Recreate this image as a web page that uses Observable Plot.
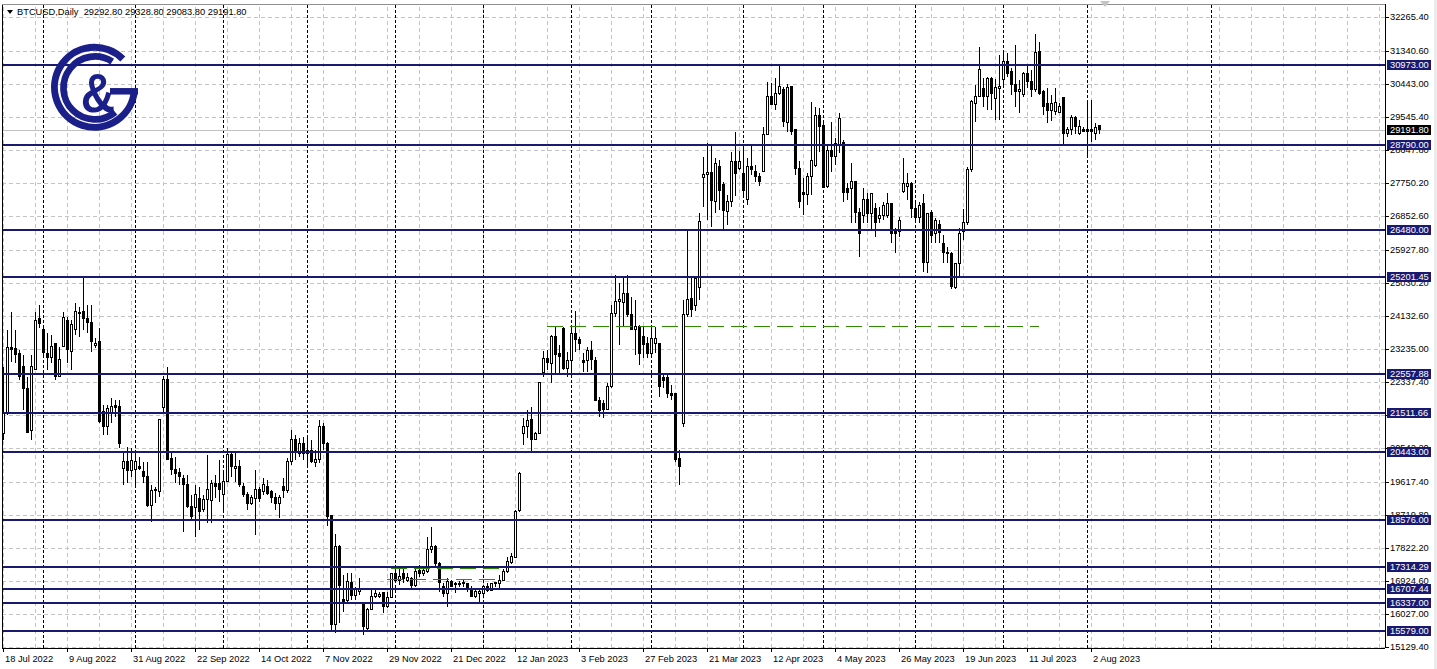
<!DOCTYPE html>
<html><head><meta charset="utf-8">
<script src="https://cdn.jsdelivr.net/npm/d3@7"></script>
<script src="https://cdn.jsdelivr.net/npm/@observablehq/plot@0.6"></script>
<style>
html,body{margin:0;padding:0;background:#fff;overflow:hidden}
#wrap{position:relative;width:1437px;height:669px}
#chart{position:absolute;left:0;top:0}
#over{position:absolute;left:0;top:0;pointer-events:none}
</style></head><body>
<div id="wrap"><div id="chart"></div>
<svg id="over" width="1437" height="669">
  <rect x="1434" y="0" width="3" height="669" fill="#ececec"/>
  <polygon points="7,10 13,10 10,14" fill="#000"/>
  <text x="17" y="15" font-family="Liberation Sans, Arial, sans-serif" font-size="9.3" style="white-space:pre">BTCUSD,Daily  29292.80 29328.80 29083.80 29191.80</text>
  <polygon points="1100,1 1110,1 1105,7" fill="#c4c4c4"/>
  <g fill="none" stroke="#1b1f8a">
    <path d="M 134.4 90.1 A 40 40 0 1 1 122.8 59" stroke-width="7"/>
    <line x1="110" y1="91.3" x2="138" y2="91.3" stroke-width="6.5"/>
    <path d="M 112.2 61.6 A 31.5 31.5 0 1 0 115.2 112.1" stroke-width="6.7"/>
  </g>
  <text transform="translate(98,112) scale(0.85,1)" text-anchor="middle" font-family="Liberation Sans, Arial, sans-serif" font-weight="bold" font-size="56" fill="#1b1f8a">&amp;</text>
</svg>
</div>
<script>
const opens=[20933,21459,23272,23227,23091,22746,22157,21005,22674,24061,
23762,23109,23000,23363,22492,23308,23997,23154,23762,24179,
24260,24061,23952,23317,23426,21522,21114,21459,21703,21658,
19981,20162,19935,19954,20044,19890,19754,18983,19373,19346,
21640,22384,20253,19936,19863,19709,19528,18938,18920,19165,
18866,19120,19101,19573,19555,19256,19618,20344,19981,20044,
19482,19256,19011,19165,19392,19346,19500,19364,19192,19011,
19500,19373,20162,20752,20389,20661,20389,20461,20135,20226,
21114,20661,18711,15720,17850,16418,16399,16871,16535,16644,
16264,15629,16146,16508,16508,16599,16218,16472,17107,16943,
17125,16943,16989,16807,17197,17125,17170,17778,17850,17397,
16762,16581,16898,16808,16808,16835,16835,16717,16508,16581,
16581,16780,16671,16835,16835,16943,17170,17415,17560,18847,
20915,21114,21314,20770,20933,22583,22973,22837,23562,23091,
23789,22701,22927,23653,23490,22909,22909,23181,22927,21839,
21749,21586,22202,24179,24514,24487,24741,24152,23762,23834,
23562,23363,23109,23363,23381,22456,22456,22021,22003,20253,
21187,24152,24605,24400,24900,27887,27978,28032,27234,28204,
27705,26980,27252,28340,28123,28005,27280,28186,28068,27914,
28050,29066,30090,29882,30181,30272,29392,30362,29184,28141,
27488,27416,27914,28231,29591,29301,27642,28639,28458,28794,
28848,27597,27597,27778,26944,26871,27298,26899,27053,26781,
26871,26871,27171,26463,26418,27506,27642,27715,27053,26808,
27189,25575,26935,26355,26600,26083,25847,25811,24904,25539,
26418,26663,28096,29891,30108,30317,30108,30589,30045,30317,
30544,31042,30770,30408,30226,30136,30725,30498,30272,31314,
30226,29909,29709,29682,29655,30072,29093,29184,29528,29093,
29202,29184,29184,29075,29292.8];
const highs=[22746,23744,24242,23744,23200,23064,22474,23064,24242,24424,
23789,23653,23608,23381,23290,24242,24106,24015,24469,24378,
25194,24424,24424,23517,23789,21703,21703,21885,21839,21839,
20434,20570,20525,20479,20298,20162,20162,19527,19482,21314,
22492,22746,20434,20298,19981,19800,19800,19256,19528,19482,
19256,20344,19664,19800,20207,19845,20525,20434,20434,20207,
19573,19346,19256,19936,19482,19709,19664,19392,19301,19256,
19709,20253,21024,20888,20797,20842,20797,20752,20480,21296,
21205,20706,18711,18195,17895,17080,17125,17125,16762,16989,
16309,16173,16717,16671,16626,16626,16626,17143,17306,17288,
17306,17125,17034,17306,17352,17306,18122,18376,17895,17442,
16853,16989,16943,16898,16925,16961,16871,16780,16671,16671,
16808,16853,16853,16898,17080,17234,17578,17669,18847,19890,
21341,21568,21640,20978,22338,23181,23200,23608,23834,23336,
23834,23154,23834,24269,23562,23109,23290,23453,23000,21930,
21839,22293,24424,25240,25013,25149,25240,24650,24560,23880,
23816,23562,23834,23834,23399,22519,22519,22248,22021,20479,
24560,26463,25194,25194,26917,28458,28821,28776,28413,28368,
27778,27416,28594,29120,28612,28776,28413,28776,28231,28005,
29274,30498,30453,30589,30952,30362,30426,30362,29184,28340,
27869,28005,29954,29818,29773,29410,28776,29410,28957,29637,
28912,27733,28277,27796,27053,27597,27461,27461,27189,27098,
27234,27461,27207,26509,26826,28413,28005,27778,27189,27234,
27443,26935,27008,26781,26735,26327,26010,25874,25557,26509,
27026,28186,29999,30408,31450,30589,30634,30634,30562,31224,
31314,31269,30861,31496,30544,30770,30951,30816,31795,31586,
30272,30317,30136,30317,29927,30090,29274,29592,29564,29455,
29274,29999,29999,29365,29328.8];
const lows=[20752,21431,22882,22837,22384,21567,20933,20752,22656,23789,
22973,22656,22837,22384,22474,23290,22837,22656,23608,23562,
23744,23653,23154,23245,21205,20887,20887,21205,21386,20525,
19527,19573,19754,19527,19935,19573,18938,18530,19029,19210,
21477,20208,19800,19573,19528,18258,18893,18576,18122,18303,
18802,18485,18485,19165,19074,18757,19618,19754,19618,19482,
19210,18847,18984,18167,19074,19256,19256,19029,18847,18621,
19165,19301,20072,20208,20298,20208,20072,20117,20026,20117,
20480,18400,15583,15493,15765,16082,16354,16399,16399,16535,
15447,15583,16128,16445,16445,16037,16173,16445,16898,16807,
16853,16898,16690,16762,17034,17052,17125,17669,17306,16626,
16490,16218,16762,16581,16762,16762,16626,16472,16445,16327,
16535,16626,16653,16762,16671,16925,17143,17379,17533,18802,
20616,20797,20407,20752,20915,22474,22656,22293,22565,22519,
22656,22474,22474,23154,23200,22610,22610,22656,21821,21386,
21341,21567,22157,24106,23336,23834,24106,23744,23064,22791,
22973,22973,22973,23109,21930,22157,21885,21839,20162,19527,
21096,24106,24106,24250,24559,27098,26735,26554,26917,27007,
26491,26600,27098,27397,28096,27370,27144,27960,27778,27669,
28032,29048,29864,29728,30136,29274,29138,29048,27960,27053,
26871,27144,27416,28186,28594,27597,27597,28050,28231,28549,
27234,27280,26645,26645,25738,26663,26645,26463,26282,26645,
26735,26781,26101,25829,26282,27461,27280,26781,26645,26663,
25330,25285,26101,26101,26101,25557,25557,24850,24850,25194,
26192,26600,28050,29410,30090,29818,29727,29727,29455,29455,
30317,30634,30136,29818,29637,30090,30317,30090,30226,30136,
29592,29365,29437,29592,29637,28775,29002,29048,29075,29048,
29138,28504,28866,28912,29083.8];
const closes=[21477,23272,23200,23064,22474,22157,20951,22746,23997,23925,
23127,23000,23308,22492,22946,24088,23200,23880,24242,24233,
24061,23952,23426,23381,21250,21114,21613,21658,21640,20643,
20162,19935,20207,20162,19981,19754,18983,19373,19410,21296,
22384,20226,19936,19827,19754,19528,18938,18684,19256,18802,
19120,19392,19573,19500,19392,19618,20344,20026,20044,19528,
19256,19029,19192,19392,19165,19528,19301,19192,19029,19192,
19373,20162,20752,20434,20661,20389,20461,20162,20226,21132,
20661,18684,15720,17868,16807,16354,16898,16535,16672,16699,
15674,16146,16508,16563,16554,16218,16472,17107,16925,17034,
16989,17007,16807,17170,17107,17197,17778,17850,17379,16871,
16581,16898,16780,16835,16853,16871,16717,16508,16626,16626,
16780,16671,16835,16871,16943,17170,17442,17596,18802,19827,
21114,21277,20770,20933,22311,22973,22855,23562,23064,23036,
22701,22927,23653,23472,23363,22855,23181,22946,21839,21567,
21586,22202,24179,24514,24578,24741,24152,23762,23834,23109,
23336,23109,23517,23517,22202,22365,22021,21975,20208,20026,
24152,24560,24306,25149,26708,27960,28032,27261,28277,27551,
27007,27252,28340,27996,28340,27551,28186,28096,27914,27796,
29066,30090,29882,30181,30362,29410,30335,29156,28141,27252,
27416,27914,28367,29573,29274,27615,28639,28458,28821,29501,
27488,27488,27796,26944,26373,27298,26899,27443,26663,26871,
27143,27171,26355,26373,26717,27715,27715,27053,26808,27143,
25575,26899,26327,26717,26391,25847,25811,24940,25539,26373,
26663,28114,29954,30108,30834,30108,30589,30181,30344,30362,
31042,30725,30408,30226,30272,30725,30498,30272,31287,30181,
29836,29727,29909,29927,29836,29093,29184,29528,29274,29292,
29138,29138,29138,29256,29191.8];

const dateLabels=["18 Jul 2022","9 Aug 2022","31 Aug 2022","22 Sep 2022","14 Oct 2022","7 Nov 2022","29 Nov 2022","21 Dec 2022","12 Jan 2023","3 Feb 2023","27 Feb 2023","21 Mar 2023","12 Apr 2023","4 May 2023","26 May 2023","19 Jun 2023","11 Jul 2023","2 Aug 2023"];
const dateLabelBars=[0,16,32,48,64,80,96,112,128,144,160,176,192,208,224,240,256,272];
const monthSeparatorBars=[10,33,55,76,98,120,142,162,185,205,228,250,271,302];
const yTickLabels=["32265.40","31340.60","30443.00","29545.40","28647.80","27750.20","26852.60","25927.80","25030.20","24132.60","23235.00","22337.40","21439.80","20542.20","19617.40","18719.80","17822.20","16924.60","16027.00","15129.40"];
const levels=[30973,28790,26480,25201.45,22557.88,21511.66,20443,18576,17314.29,16707.44,16337,15579];
const levelLabels=["30973.00","28790.00","26480.00","25201.45","22557.88","21511.66","20443.00","18576.00","17314.29","16707.44","16337.00","15579.00"];
const lastPrice=29191.80;
const lastPriceLabel="29191.80";
const greenLevels=[23840,17262,16963];
const greenFrom=[136,97,96];
const greenTo=[259,124,124];

const n=opens.length;
const bars=d3.range(n).map(i=>({i,o:opens[i],h:highs[i],l:lows[i],c:closes[i]}));
const yTicks=yTickLabels.map(Number);
const pxPrice=27.2;
const yOrigin=32719.6;
const yTop=yOrigin-4*pxPrice;
const yBottom=yOrigin-648*pxPrice;
const leftEdge=-0.25, rightEdge=345.5;
const greens=greenLevels.map((v,k)=>({v,a:greenFrom[k],b:greenTo[k]}));
const lev=levels.map((v,k)=>({v,t:levelLabels[k]}));
const font="Liberation Sans, Arial, sans-serif";
const crisp={shapeRendering:"crispEdges"};

const chart=Plot.plot({
  width:1437,height:669,margin:0,
  style:{fontFamily:font,fontSize:"9.3px",background:"#fff"},
  x:{type:"linear",domain:[-0.75,358.5],range:[0,1437],axis:null},
  y:{type:"linear",domain:[yOrigin-669*pxPrice,yOrigin],range:[669,0],axis:null},
  color:{type:"identity"},
  marks:[
    Plot.ruleY(yTicks,{x1:leftEdge,x2:rightEdge,stroke:"#c4c4c4",strokeDasharray:"4,3",...crisp}),
    Plot.ruleX(d3.range(0,345,8),{y1:yBottom,y2:yTop,stroke:"#c4c4c4",strokeDasharray:"4,3",...crisp}),
    Plot.ruleX(monthSeparatorBars,{y1:yBottom,y2:yTop,stroke:"#000",strokeDasharray:"3,2",...crisp}),
    Plot.ruleY([lastPrice],{x1:leftEdge,x2:rightEdge,stroke:"#c0c0c0",...crisp}),
    Plot.ruleX(bars,{x:"i",y1:"l",y2:"h",stroke:"#000",...crisp}),
    Plot.rect(bars,{x1:d=>d.i-0.25,x2:d=>d.i+0.25,y1:d=>Math.min(d.o,d.c),y2:d=>Math.max(d.o,d.c),fill:d=>d.c>=d.o?"#ffffff":"#000000",stroke:"#000",...crisp}),
    Plot.ruleY(levels,{x1:leftEdge,x2:rightEdge,stroke:"#191970",strokeWidth:2,...crisp}),
    Plot.ruleY(greens,{y:"v",x1:"a",x2:"b",stroke:"#2e8b00",strokeDasharray:"16,7",...crisp}),
    Plot.ruleX([leftEdge],{y1:yBottom,y2:yTop,stroke:"#000",...crisp}),
    Plot.ruleX([rightEdge],{y1:yBottom,y2:yTop,stroke:"#000",...crisp}),
    Plot.ruleY([yBottom],{x1:leftEdge,x2:rightEdge,stroke:"#000",...crisp}),
    Plot.ruleY([yTop],{x1:leftEdge,x2:rightEdge,stroke:"#909090",...crisp}),
    Plot.ruleY(yTicks,{x1:rightEdge,x2:rightEdge+0.9,stroke:"#000",...crisp}),
    Plot.text(yTicks,{x:rightEdge,y:d=>d,text:(d,k)=>yTickLabels[k],dx:4.5,textAnchor:"start",fill:"#000",fontSize:9.3}),
    Plot.ruleX(dateLabelBars,{y1:yBottom,y2:yBottom-4*pxPrice,stroke:"#000",...crisp}),
    Plot.text(dateLabelBars,{x:d=>d,y:yBottom,text:(d,k)=>dateLabels[k],dx:1.5,dy:10.5,textAnchor:"start",fill:"#000",fontSize:9.3}),
    Plot.ruleY(lev,{y:"v",x1:rightEdge+0.5,x2:rightEdge+11.5,stroke:"#191970",strokeWidth:10,...crisp}),
    Plot.text(lev,{x:rightEdge,y:"v",text:"t",dx:4.5,textAnchor:"start",fill:"#fff",fontSize:9.3}),
    Plot.ruleY([lastPrice],{x1:rightEdge+0.5,x2:rightEdge+11.5,stroke:"#000",strokeWidth:10,...crisp}),
    Plot.text([lastPrice],{x:rightEdge,y:d=>d,text:[lastPriceLabel],dx:4.5,textAnchor:"start",fill:"#fff",fontSize:9.3})
  ]
});
document.getElementById("chart").appendChild(chart);
</script>
</body></html>
